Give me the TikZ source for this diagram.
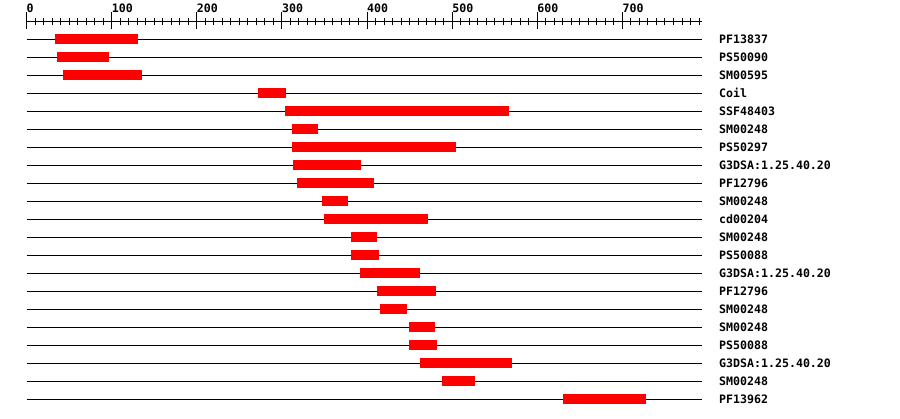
\documentclass[tikz,border=0pt]{standalone}
\usepackage{fontspec}
\newfontfamily\lblfont{DejaVu Sans Mono}
\begin{document}
\begin{tikzpicture}[x=1pt,y=-1pt,
  trackline/.style={draw=black,line width=1pt},
  domainbar/.style={fill=red},
  rowlabel/.style={anchor=base west,inner sep=0pt,font=\lblfont\bfseries\fontsize{11.6}{12}\selectfont},
  axislabel/.style={anchor=base west,inner sep=0pt,font=\lblfont\bfseries\fontsize{11.6}{12}\selectfont},
  tick/.style={draw=black,line width=1pt}]
\useasboundingbox[fill=white] (0,0) rectangle (900,418);
% axis
\coordinate (axL) at (26.5,21.7);
\coordinate (axR) at (701.7,21.7);
\draw[tick] (axL) -- (axR);
\foreach \u in {0,10,...,790}{
  \draw[tick] ({26.5+0.8513*\u},18.3) -- ({26.5+0.8513*\u},25);
}
\foreach \u in {0,100,...,700}{
  \draw[tick] ({26.5+0.8513*\u},12.3) -- ({26.5+0.8513*\u},28.7);
  \node[axislabel] (lab\u) at ({26.5+0.8513*\u},12) {\u};
}
% rows
\foreach \i/\name/\a/\b in {
  1/PF13837/55/137.7,
  2/PS50090/57/108.7,
  3/SM00595/63/142,
  4/Coil/258/286,
  5/SSF48403/285/509,
  6/SM00248/292/318,
  7/PS50297/292/456,
  8/G3DSA:1.25.40.20/293/361,
  9/PF12796/297/374,
  10/SM00248/322/348,
  11/cd00204/324/428,
  12/SM00248/351/377,
  13/PS50088/351/379,
  14/G3DSA:1.25.40.20/360/420,
  15/PF12796/377/436,
  16/SM00248/380/407,
  17/SM00248/409/435,
  18/PS50088/409/437,
  19/G3DSA:1.25.40.20/420/512,
  20/SM00248/442/475,
  21/PF13962/563/646}{
  \pgfmathsetmacro{\yy}{39+18*(\i-1)}
  \coordinate (l\i) at (26.5,\yy);
  \coordinate (r\i) at (701.7,\yy);
  \draw[trackline] (l\i) -- (r\i);
  \fill[domainbar] (\a,\yy-4.6) rectangle (\b,\yy+4.6);
  \node[rowlabel] (name\i) at (719,\yy+4) {\name};
}
\end{tikzpicture}
\end{document}
